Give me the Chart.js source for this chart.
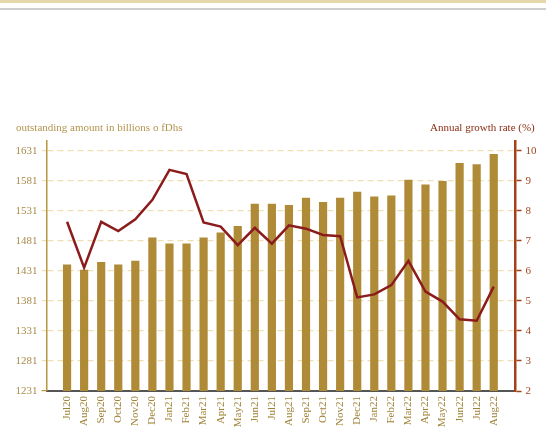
<!DOCTYPE html>
<html>
<head>
<meta charset="utf-8">
<script src="https://cdn.jsdelivr.net/npm/chart.js@4.4.1/dist/chart.umd.min.js"></script>
<style>
  html, body { margin: 0; padding: 0; background: #fff; }
  #wrap { position: relative; width: 546px; height: 429px; overflow: hidden; }
  .band { position: absolute; left: 0; top: 0; width: 546px; height: 3px; background: #e6d8a8; }
  .rule { position: absolute; left: 0; top: 8px; width: 546px; height: 2px; background: #cfcfcf; }
  .ttl { position: absolute; font-family: "Liberation Serif", serif; white-space: nowrap; }
  #ttlLeft { left: 16px; top: 121px; font-size: 11px; color: #b3944f; }
  #ttlRight { left: 430px; top: 121px; font-size: 11px; color: #8b2c12; }
  canvas { position: absolute; left: 0; top: 0; }
</style>
</head>
<body>
<div id="wrap">
  <div class="band"></div>
  <div class="rule"></div>
  <canvas id="chart" width="546" height="429"></canvas>
  <div class="ttl" id="ttlLeft">outstanding amount in billions o fDhs</div>
  <div class="ttl" id="ttlRight">Annual growth rate (%)</div>
</div>
<script>
const months = ["Jul20", "Aug20", "Sep20", "Oct20", "Nov20", "Dec20",
    "Jan21", "Feb21", "Mar21", "Apr21", "May21", "Jun21", "Jul21", "Aug21", "Sep21", "Oct21", "Nov21", "Dec21",
    "Jan22", "Feb22", "Mar22", "Apr22", "May22", "Jun22", "Jul22", "Aug22"];

// encours en milliards de Dhs
const outstanding = [1442, 1433, 1446, 1442, 1448, 1487,
    1477, 1477, 1487, 1495, 1506, 1543, 1543, 1541, 1553, 1546, 1553, 1563,
    1555, 1557, 1583, 1575, 1581, 1611, 1609, 1626];

// taux de croissance annuel (%)
const growthRate = [7.64, 6.11, 7.64, 7.33, 7.72, 8.37,
    9.37, 9.23, 7.62, 7.48, 6.86, 7.44, 6.91, 7.52, 7.41, 7.20, 7.16, 5.12,
    5.22, 5.53, 6.34, 5.31, 4.98, 4.39, 4.34, 5.48];

const amountTicks = [1231, 1281, 1331, 1381, 1431, 1481, 1531, 1581, 1631];
const rateTicks = [2, 3, 4, 5, 6, 7, 8, 9, 10];

window.addEventListener("DOMContentLoaded", function() {
    const ctx = document.getElementById("chart");
    const serif = "'Liberation Serif', 'Times New Roman', serif";

    new Chart(ctx, {
        data: {
            datasets: [{
                type: "line",
                label: "Annual growth rate (%)",
                data: months.map((m, i) => ({ x: i, y: growthRate[i] })),
                yAxisID: "y1",
                borderColor: "#8c1c1c",
                borderWidth: 2.5,
                pointRadius: 0,
                tension: 0,
                order: 0
            }, {
                type: "bar",
                label: "outstanding amount",
                data: months.map((m, i) => ({ x: i, y: outstanding[i] })),
                yAxisID: "y",
                backgroundColor: "#b08b37",
                barPercentage: 0.48,
                categoryPercentage: 1,
                order: 1
            }]
        },
        options: {
            responsive: false,
            animation: false,
            layout: { padding: { top: 141 } },
            plugins: {
                legend: { display: false },
                tooltip: { enabled: false }
            },
            scales: {
                x: {
                    type: "linear",
                    min: -0.676,
                    max: 25.746,
                    afterBuildTicks: (axis) => { axis.ticks = months.map((m, i) => ({ value: i })); },
                    afterFit: (axis) => { axis.height = 38; },
                    ticks: {
                        callback: (v) => months[v],
                        minRotation: 90,
                        maxRotation: 90,
                        autoSkip: false,
                        padding: 5,
                        color: "#9e8236",
                        font: { family: serif, size: 11 }
                    },
                    grid: { drawOnChartArea: false, drawTicks: false },
                    border: { color: "#555", width: 2 }
                },
                y: {
                    position: "left",
                    min: 1231,
                    max: 1647.67,
                    afterBuildTicks: (axis) => { axis.ticks = amountTicks.map(v => ({ value: v })); },
                    afterFit: (axis) => { axis.width = 46.5; },
                    ticks: {
                        callback: (v) => String(v),
                        padding: 4,
                        color: "#a88a4a",
                        font: { family: serif, size: 11 }
                    },
                    grid: {
                        color: "#eedfb5",
                        lineWidth: 1.2,
                        tickLength: 5,
                        tickColor: (c) => c.tick && c.tick.value === 1231 ? "#b8963e" : "#eedfb5"
                    },
                    border: { color: "#b8963e", width: 1.5, dash: [6, 4] }
                },
                y1: {
                    position: "right",
                    min: 2,
                    max: 10.333,
                    afterBuildTicks: (axis) => { axis.ticks = rateTicks.map(v => ({ value: v })); },
                    afterFit: (axis) => { axis.width = 30.5; },
                    ticks: {
                        callback: (v) => String(v),
                        padding: 4,
                        color: "#a0471f",
                        font: { family: serif, size: 11 }
                    },
                    grid: {
                        drawOnChartArea: false,
                        tickLength: 6,
                        tickColor: "#a3411b",
                        tickWidth: 1.5
                    },
                    border: { color: "#a3411b", width: 2.5 }
                }
            }
        }
    });
});
</script>
</body>
</html>
